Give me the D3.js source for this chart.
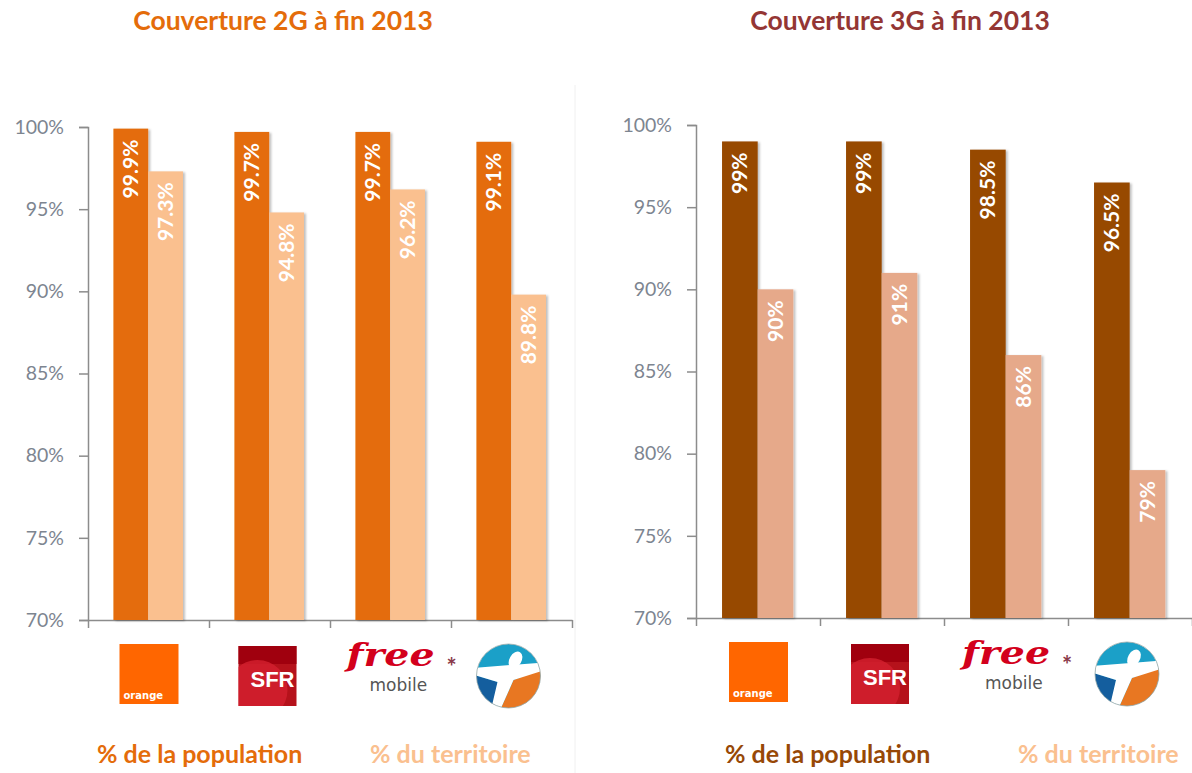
<!DOCTYPE html>
<html><head><meta charset="utf-8">
<script src="https://cdn.jsdelivr.net/npm/d3@7"></script>
<style>
html,body{margin:0;padding:0;background:#fff;}
svg{display:block;font-family:Lato,"Open Sans",sans-serif;}
</style></head>
<body>
<svg id="chart" width="1192" height="773"></svg>
<script>
const operators = ["Orange", "SFR", "Free Mobile", "Bouygues Telecom"];
const series = ["population", "territoire"];
const seriesLabels = ["% de la population", "% du territoire"];
const pop2G = [99.9, 99.7, 99.7, 99.1];
const terr2G = [97.3, 94.8, 96.2, 89.8];
const pop3G = [99, 99, 98.5, 96.5];
const terr3G = [90, 91, 86, 79];
const yTicks = [70, 75, 80, 85, 90, 95, 100];
const yTickLabels = ["70%", "75%", "80%", "85%", "90%", "95%", "100%"];
const titles = ["Couverture 2G à fin 2013", "Couverture 3G à fin 2013"];

const svg = d3.select("#chart");
const defs = svg.append("defs");
defs.append("filter").attr("id","shadow").attr("x","-20%").attr("y","-5%").attr("width","150%").attr("height","115%")
  .append("feDropShadow").attr("dx",2).attr("dy",1).attr("stdDeviation",1.2).attr("flood-color","#000").attr("flood-opacity",0.25);

// faint separator
svg.append("line").attr("x1",575).attr("x2",575).attr("y1",85).attr("y2",773)
  .attr("stroke","#f0f0f0").attr("stroke-width",1);

const panels = [
  {title: titles[0], pop: pop2G, terr: terr2G, x0: 88, x1: 572, yTop: 127, yBot: 620,
   colors: ["#E46C0A", "#FAC08F"], titleColor: "#E46C0A", titleX: 283,
   legendColors: ["#E46C0A", "#FAC08F"], legendX: [97, 370]},
  {title: titles[1], pop: pop3G, terr: terr3G, x0: 696, x1: 1192, yTop: 125, yBot: 618,
   colors: ["#974806", "#E6A98A"], titleColor: "#943634", titleX: 900,
   legendColors: ["#974806", "#FAC08F"], legendX: [725, 1018]}
];

panels.forEach((p, pi) => {
  const g = svg.append("g");
  const x = d3.scaleBand().domain(operators).range([p.x0, p.x1]).padding(0);
  const xs = d3.scaleBand().domain(series).range([x.bandwidth()*0.21, x.bandwidth()*0.785]).padding(0);
  const y = d3.scaleLinear().domain([70, 100]).range([p.yBot, p.yTop]);

  // title
  g.append("text").attr("x", p.titleX).attr("y", 30).attr("text-anchor","middle")
    .attr("font-size", 26.5).attr("font-weight", 700).attr("fill", p.titleColor).text(p.title);

  // y axis
  const yAxis = d3.axisLeft(y).tickValues(yTicks).tickFormat((d,i) => yTickLabels[i]).tickSize(9).tickPadding(15);
  const ya = g.append("g").attr("transform", `translate(${p.x0},0)`).call(yAxis);
  ya.select(".domain").attr("stroke","#8c8c8c").attr("stroke-width",1.5);
  ya.selectAll(".tick line").attr("stroke","#8c8c8c").attr("stroke-width",1.5);
  ya.selectAll(".tick text").attr("fill","#7d8590").attr("font-size",19.5).attr("font-family","Lato, sans-serif");

  // x axis with ticks at category boundaries
  const xi = d3.scaleLinear().domain([0, operators.length]).range([p.x0, p.x1]);
  const xa = g.append("g").attr("transform", `translate(0,${p.yBot})`)
    .call(d3.axisBottom(xi).tickValues(d3.range(operators.length + 1)).tickFormat("").tickSize(8).tickSizeOuter(0));
  xa.select(".domain").attr("stroke","#8c8c8c").attr("stroke-width",1.5);
  xa.selectAll(".tick line").attr("stroke","#8c8c8c").attr("stroke-width",1.5);

  // bars
  const rows = operators.map((op, i) => ({op, vals: [p.pop[i], p.terr[i]]}));
  const grp = g.selectAll(".grp").data(rows).join("g").attr("transform", d => `translate(${x(d.op)},0)`);
  grp.selectAll("rect").data(d => d.vals.map((v, j) => ({s: series[j], v, j})))
    .join("rect")
    .attr("x", d => xs(d.s)).attr("width", xs.bandwidth())
    .attr("y", d => y(d.v)).attr("height", d => y(70) - y(d.v))
    .attr("fill", d => p.colors[d.j]).attr("filter","url(#shadow)");
  grp.selectAll("text.val").data(d => d.vals.map((v, j) => ({s: series[j], v, j})))
    .join("text").attr("class","val")
    .attr("transform", d => `translate(${xs(d.s) + xs.bandwidth()/2},${y(d.v) + 11}) rotate(-90)`)
    .attr("text-anchor","end").attr("dy","0.36em")
    .attr("font-size", 21).attr("font-weight", 700).attr("fill","#fff")
    .text(d => d.v + "%");

  // logos
  const ly = p.yBot + 24;
  operators.forEach((op, i) => {
    const cx = x(op) + x.bandwidth()/2;
    const lg = g.append("g");
    if (i === 0) {
      lg.append("rect").attr("x", cx-29).attr("y", ly).attr("width",59).attr("height",60).attr("fill","#FF6600");
      lg.append("text").attr("x", cx-25).attr("y", ly+55).attr("font-size",10).attr("font-weight",700)
        .attr("fill","#fff").attr("font-family","DejaVu Sans, sans-serif").text("orange");
    } else if (i === 1) {
      const cid = `sfrclip${pi}`;
      defs.append("clipPath").attr("id", cid).append("rect").attr("x", cx-31).attr("y", ly+2).attr("width",58).attr("height",60);
      lg.append("rect").attr("x", cx-31).attr("y", ly+2).attr("width",58).attr("height",60).attr("fill","#B5121B");
      lg.append("rect").attr("x", cx-31).attr("y", ly+2).attr("width",58).attr("height",18).attr("fill","#A0000E");
      lg.append("circle").attr("cx", cx-12).attr("cy", ly+46).attr("r",30).attr("fill","#D42030").attr("opacity",0.8).attr("clip-path",`url(#${cid})`);
      lg.append("text").attr("x", cx+25).attr("y", ly+43).attr("text-anchor","end").attr("font-size",22)
        .attr("font-weight",700).attr("fill","#fff").attr("font-family","Liberation Sans, sans-serif").text("SFR");
    } else if (i === 2) {
      lg.append("text").attr("x", cx-44).attr("y", ly+22).attr("font-size",32).attr("font-weight",700)
        .attr("font-style","italic").attr("fill","#D3001C").attr("font-family","DejaVu Serif, serif")
        .attr("textLength",88).attr("lengthAdjust","spacingAndGlyphs").text("free");
      lg.append("text").attr("x", cx-21).attr("y", ly+47).attr("font-size",17)
        .attr("fill","#555").attr("font-family","DejaVu Sans, sans-serif").text("mobile");
      lg.append("text").attr("x", cx+56).attr("y", ly+32).attr("font-size",24).attr("font-weight",700)
        .attr("fill","#8a3a4a").text("*");
    } else {
      const cyc = ly + 32, r = 32;
      const cid = `byclip${pi}`;
      defs.append("clipPath").attr("id", cid).append("circle").attr("cx", cx-3).attr("cy", cyc).attr("r", r);
      const b = lg.append("g").attr("clip-path", `url(#${cid})`);
      b.append("circle").attr("cx", cx-3).attr("cy", cyc).attr("r", r).attr("fill","#1BA0C8");
      b.append("path").attr("d", `M${cx-40},${cyc-2} L${cx-14},${cyc+6} L${cx-20},${cyc+40} L${cx-40},${cyc+40}Z`).attr("fill","#145E9E");
      b.append("path").attr("d", `M${cx+2},${cyc+4} L${cx+40},${cyc-10} L${cx+40},${cyc+40} L${cx-14},${cyc+40}Z`).attr("fill","#E87722");
      b.append("path").attr("d", `M${cx-40},${cyc-8} L${cx+40},${cyc-14} L${cx+40},${cyc-8} L${cx+2},${cyc+4} L${cx-14},${cyc+40} L${cx-22},${cyc+40} L${cx-14},${cyc+6} L${cx-40},${cyc-2}Z`).attr("fill","#fff");
      lg.append("ellipse").attr("cx", cx+4).attr("cy", cyc-16).attr("rx",6).attr("ry",9)
        .attr("transform", `rotate(30,${cx+4},${cyc-16})`).attr("fill","#fff");
      lg.append("circle").attr("cx", cx-3).attr("cy", cyc).attr("r", r).attr("fill","none").attr("stroke","#9aa").attr("stroke-width",0.8);
    }
  });

  // legend
  seriesLabels.forEach((t, j) => {
    g.append("text").attr("x", p.legendX[j]).attr("y", 763).attr("font-size", 25).attr("font-weight",700)
      .attr("fill", p.legendColors[j]).text(t);
  });
});
</script>
</body></html>
